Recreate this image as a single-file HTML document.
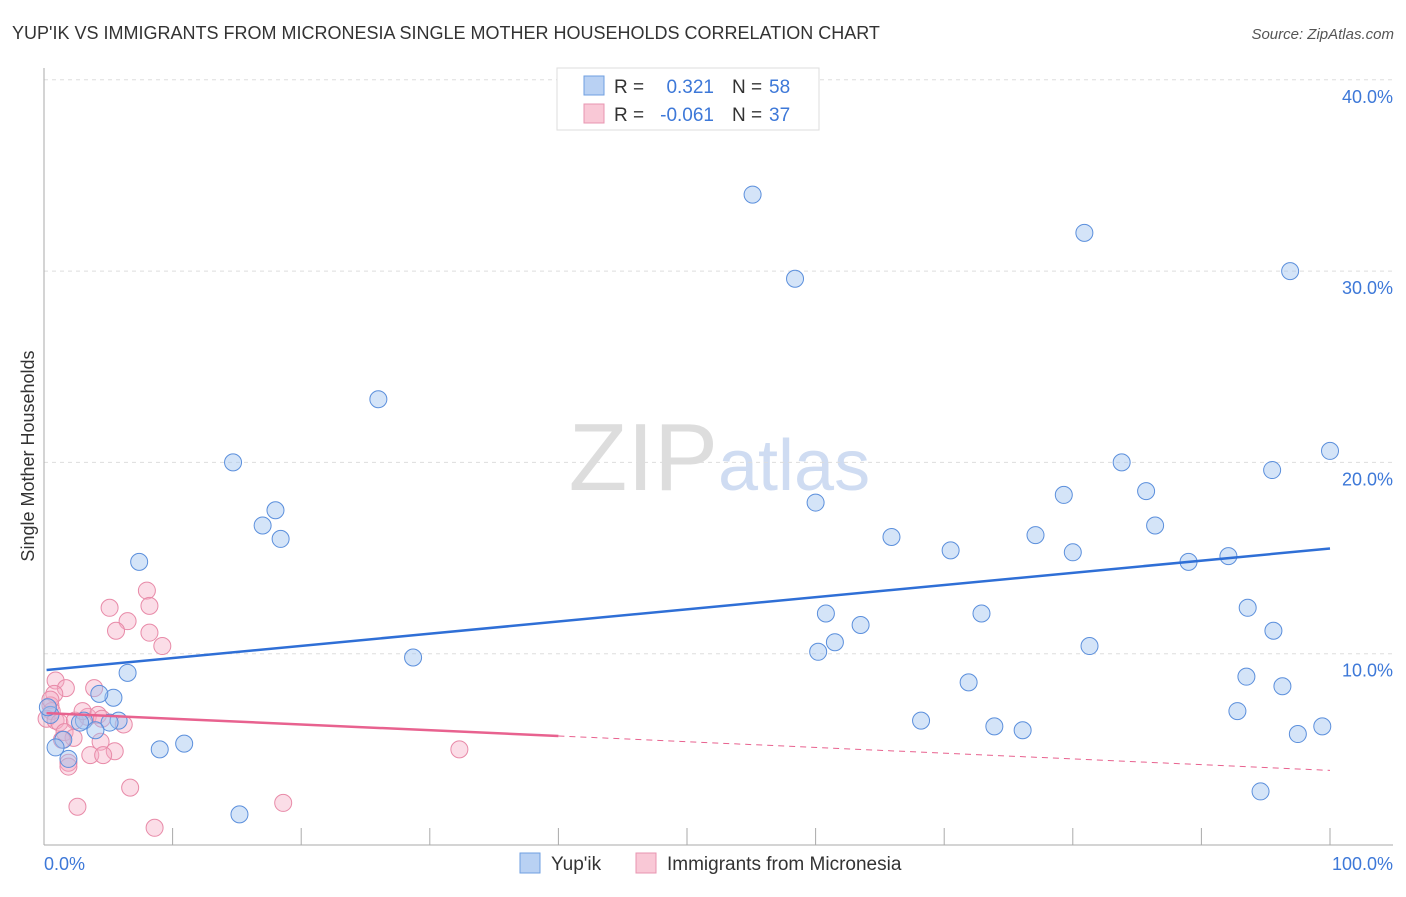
<!DOCTYPE html>
<html><head><meta charset="utf-8"><style>
body{margin:0;background:#fff;font-family:"Liberation Sans",sans-serif;}
svg text{font-family:"Liberation Sans",sans-serif;}
</style></head><body>
<svg width="1406" height="892" xmlns="http://www.w3.org/2000/svg">
<text x="12" y="39" font-size="18" fill="#333">YUP'IK VS IMMIGRANTS FROM MICRONESIA SINGLE MOTHER HOUSEHOLDS CORRELATION CHART</text>
<text x="1394" y="39" font-size="15" fill="#555" font-style="italic" text-anchor="end">Source: ZipAtlas.com</text>
<text x="718" y="490" font-size="96" fill="#ddd" text-anchor="end" font-family="Liberation Serif">ZIP</text>
<text x="718" y="490" font-size="72" fill="#cfdcf2">atlas</text>
<g id="grid"></g><g id="axes"></g>
<text transform="translate(34,456) rotate(-90)" font-size="18" fill="#333" text-anchor="middle">Single Mother Households</text>
<text x="44" y="870" font-size="18" fill="#3d78d8">0.0%</text>
<text x="1393" y="870" font-size="18" fill="#3d78d8" text-anchor="end">100.0%</text>
<g id="pts"></g><g id="trends"></g>
<g>
<rect x="557" y="68" width="262" height="62" fill="#fff" stroke="#ddd"/>
<rect x="584" y="76" width="20" height="19" fill="#b9d1f3" stroke="#6f9fe0"/>
<rect x="584" y="104" width="20" height="19" fill="#f9c8d6" stroke="#e895b0"/>
<text x="614" y="93" font-size="19" fill="#333">R = </text><text x="714" y="93" font-size="19" fill="#3d78d8" text-anchor="end">0.321</text>
<text x="732" y="93" font-size="19" fill="#333">N = </text><text x="769" y="93" font-size="19" fill="#3d78d8">58</text>
<text x="614" y="121" font-size="19" fill="#333">R = </text><text x="714" y="121" font-size="19" fill="#3d78d8" text-anchor="end">-0.061</text>
<text x="732" y="121" font-size="19" fill="#333">N = </text><text x="769" y="121" font-size="19" fill="#3d78d8">37</text>
</g>
<g>
<rect x="520" y="853" width="20" height="20" fill="#b9d1f3" stroke="#6f9fe0"/>
<text x="551" y="870" font-size="19" fill="#333">Yup'ik</text>
<rect x="636" y="853" width="20" height="20" fill="#f9c8d6" stroke="#e895b0"/>
<text x="667" y="870" font-size="19" fill="#333">Immigrants from Micronesia</text>
</g>
</svg>
<script>
const yTicks=[10,20,30,40];
const xTicks=[10,20,30,40,50,60,70,80,90,100];
const blueX=[55.1,80.9,96.9,58.4,26.0,14.7,100,83.8,95.5,79.3,85.7,60.0,18.0,17.0,18.4,86.4,65.9,77.1,70.5,80.0,7.4,89.0,92.1,93.6,60.8,72.9,63.5,95.6,61.5,60.2,81.3,28.7,6.5,71.9,93.5,96.3,5.4,4.3,68.2,73.9,76.1,92.8,99.4,97.5,5.8,5.1,3.1,4.0,1.5,0.9,9.0,10.9,1.9,15.2,94.6,0.5,0.3,2.8];
const blueY=[34.0,32.0,30.0,29.6,23.3,20.0,20.6,20.0,19.6,18.3,18.5,17.9,17.5,16.7,16.0,16.7,16.1,16.2,15.4,15.3,14.8,14.8,15.1,12.4,12.1,12.1,11.5,11.2,10.6,10.1,10.4,9.8,9.0,8.5,8.8,8.3,7.7,7.9,6.5,6.2,6.0,7.0,6.2,5.8,6.5,6.4,6.5,6.0,5.5,5.1,5.0,5.3,4.5,1.6,2.8,6.8,7.2,6.4];
const pinkX=[5.1,8.0,8.2,6.5,5.6,8.2,9.2,0.9,1.7,0.8,3.9,0.5,0.6,0.2,0.9,3.4,4.2,4.5,1.2,2.4,6.2,1.6,2.3,4.4,1.4,5.5,3.6,4.6,1.9,1.9,32.3,6.7,2.6,18.6,8.6,0.5,3.0];
const pinkY=[12.4,13.3,12.5,11.7,11.2,11.1,10.4,8.6,8.2,7.9,8.2,7.3,7.0,6.6,6.5,6.7,6.8,6.6,6.4,6.5,6.3,5.9,5.6,5.4,5.5,4.9,4.7,4.7,4.3,4.1,5.0,3.0,2.0,2.2,0.9,7.6,7.0];
const blueTrend=[9.15,15.5];
const pinkTrend=[6.9,3.9];
const pinkSolidEnd=40;
const NS="http://www.w3.org/2000/svg";
const X=v=>44+v*12.86, Y=v=>845-v*19.13;
function mk(t,a,p){const e=document.createElementNS(NS,t);for(const k in a)e.setAttribute(k,a[k]);p.appendChild(e);return e;}
const grid=document.getElementById('grid'),axes=document.getElementById('axes');
yTicks.forEach(t=>{
 const l=mk('line',{x1:44,x2:1393,y1:Y(t),y2:Y(t),stroke:'#ddd','stroke-dasharray':'4,4'},grid);
 
 
 const tx=mk('text',{x:1393,y:Y(t)+23,'font-size':18,fill:'#3d78d8','text-anchor':'end'},grid);
 tx.textContent=t.toFixed(1)+'%';
 
 
});
let a=mk('line',{x1:44,x2:44,y1:68,y2:845,stroke:'#aaa'},axes);


a=mk('line',{x1:44,x2:1393,y1:845,y2:845,stroke:'#aaa'},axes);


xTicks.forEach(t=>{
 const l=mk('line',{x1:X(t),x2:X(t),y1:828,y2:845,stroke:'#aaa'},axes);
 
 
});
const pts=document.getElementById('pts');
pinkX.forEach((v,i)=>{
 const c=mk('circle',{cx:X(v),cy:Y(pinkY[i]),r:8.5,fill:'rgba(245,170,195,0.4)',stroke:'#e88aa8','stroke-width':1},pts);
 
 
});
blueX.forEach((v,i)=>{
 const c=mk('circle',{cx:X(v),cy:Y(blueY[i]),r:8.5,fill:'rgba(160,195,240,0.45)',stroke:'#5b8fdc','stroke-width':1},pts);
 
 
});
const tr=document.getElementById('trends');
let t1=mk('line',{x1:X(0.2),y1:Y(blueTrend[0]),x2:X(100),y2:Y(blueTrend[1]),stroke:'#2f6fd6','stroke-width':2.5},tr);


const py=x=>pinkTrend[0]+(pinkTrend[1]-pinkTrend[0])*x/100;
let t2=mk('line',{x1:X(0.2),y1:Y(py(0.2)),x2:X(pinkSolidEnd),y2:Y(py(pinkSolidEnd)),stroke:'#e8628f','stroke-width':2.5},tr);


let t3=mk('line',{x1:X(pinkSolidEnd),y1:Y(py(pinkSolidEnd)),x2:X(100),y2:Y(py(100)),stroke:'#e8628f','stroke-width':1,'stroke-dasharray':'6,5'},tr);


</script>
</body></html>
